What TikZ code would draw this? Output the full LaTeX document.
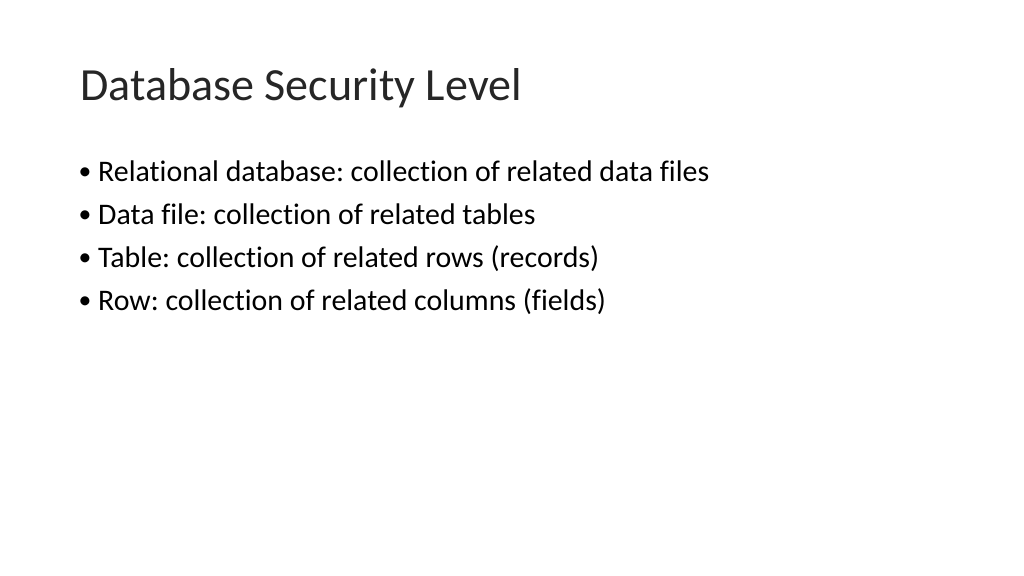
\documentclass[tikz,border=0pt]{standalone}
\usepackage{fontspec}
\setmainfont[Ligatures={NoCommon}]{Carlito}
\begin{document}
\frenchspacing
\begin{tikzpicture}[x=0.9375pt,y=-0.9375pt,
  titletext/.style={anchor=base west,inner sep=0pt,font=\fontsize{43.2}{50}\selectfont\frenchspacing,text=black!85},
  bullettext/.style={anchor=base west,inner sep=0pt,font=\fontsize{28}{34}\selectfont\frenchspacing,text=black},
  bulletdot/.style={anchor=base west,inner sep=0pt,font=\fontsize{24}{28}\selectfont,text=black}]
\fill[white] (0,0) rectangle (1024,576);
\useasboundingbox (0,0) rectangle (1024,576);
\node[titletext] (title) at (80,101) {Database Security Level};
\node[bulletdot] (b1) at (78.5,179.5) {•};
\node[bullettext] (t1) at (98,181) {Relational database: collection of related data files};
\node[bulletdot] (b2) at (78.5,222.5) {•};
\node[bullettext] (t2) at (98,224) {Data file: collection of related tables};
\node[bulletdot] (b3) at (78.5,265.5) {•};
\node[bullettext] (t3) at (98,267) {Table: collection of related rows (records)};
\node[bulletdot] (b4) at (78.5,308.5) {•};
\node[bullettext] (t4) at (98,310) {Row: collection of related columns (fields)};
\end{tikzpicture}
\end{document}
